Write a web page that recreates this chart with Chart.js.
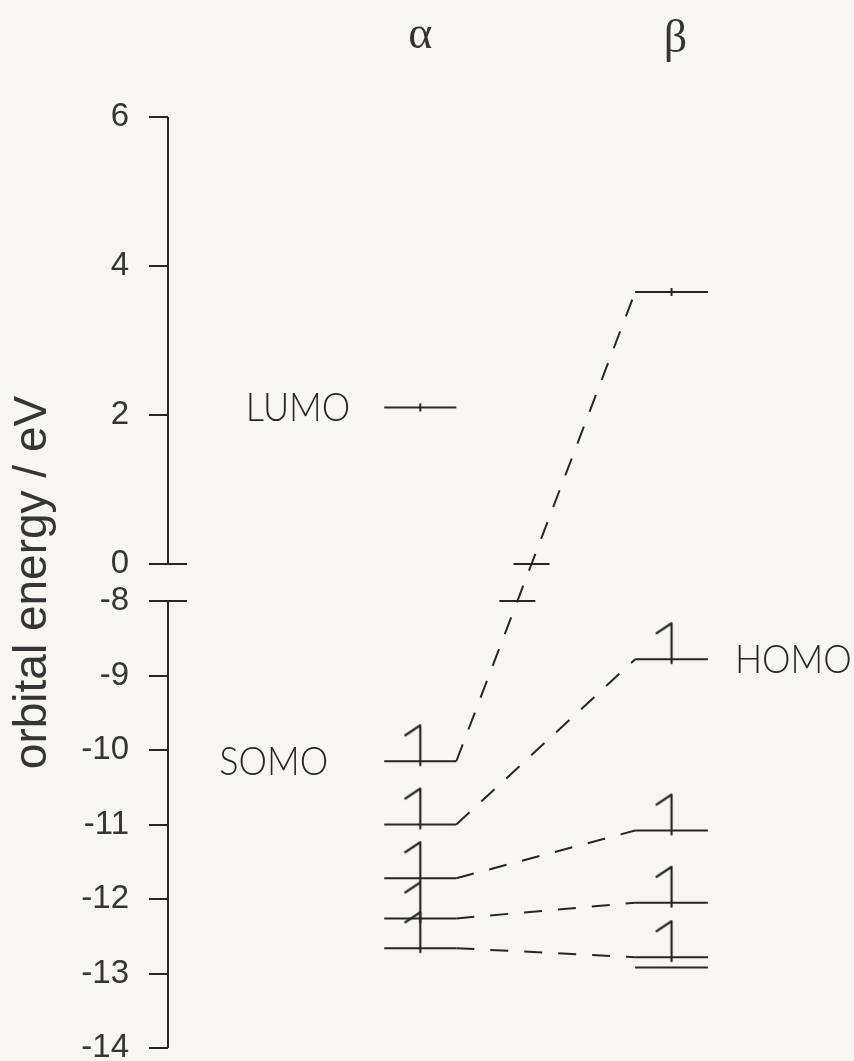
<!DOCTYPE html>
<html>
<head>
<meta charset="utf-8">
<script src="https://cdn.jsdelivr.net/npm/chart.js@4.4.1/dist/chart.umd.min.js"></script>
<style>
  html, body { margin: 0; padding: 0; background: #f8f6f1; }
  #wrap { width: 854px; height: 1061px; }
</style>
</head>
<body>
<div id="wrap"><canvas id="levels"></canvas></div>
<script>
// orbital energies (eV)
const alphaEnergy = [2.1, -10.15, -11.0, -11.72, -12.26, -12.66]
const alphaElectrons = [0, 1, 1, 1, 1, 1]
const betaEnergy = [3.65, -8.78, -11.08, -12.05, -12.78, -12.92]
const betaElectrons = [0, 1, 1, 1, 1, null]
// pairs [alpha level, beta level] joined by a dashed line
const correlation = [[1, 0], [2, 1], [3, 2], [4, 3], [5, 4]]
const orbitalNames = [
  { text: 'LUMO', spin: 'alpha', level: 0 },
  { text: 'SOMO', spin: 'alpha', level: 1 },
  { text: 'HOMO', spin: 'beta', level: 1 },
]
const spinLabels = ['α', 'β']
const tickValues = [6, 4, 2, 0, -8, -9, -10, -11, -12, -13, -14]
const axisTitle = 'orbital energy / eV'

// ---- broken axis: 0..6 on top, -8..-14 below, half a unit between ----
const BREAK_TOP = 0
const BREAK_BOTTOM = -8
const GAP = 0.5
const toAxis = e => (e >= BREAK_TOP ? e : e - BREAK_BOTTOM + BREAK_TOP - GAP)
const fromAxis = v => (v > BREAK_TOP - GAP / 2 ? v : v + BREAK_BOTTOM - BREAK_TOP + GAP)

// ---- layout / style ----
const INK = '#262626'
const TEXT = '#353535'
const COL = { alpha: [31.8, 42.4], beta: [68.7, 79.4] } // x extent of level lines (0..100)
const NAME_GAP = { LUMO: 34, SOMO: 56, HOMO: 27 }
const mid = ([a, b]) => (a + b) / 2

// half-arrow (harpoon) used for an electron
const harpoon = document.createElement('canvas')
harpoon.width = 40
harpoon.height = 90
const hc = harpoon.getContext('2d')
hc.strokeStyle = INK
hc.lineWidth = 2.2
hc.lineCap = 'round'
hc.lineJoin = 'round'
hc.beginPath()
hc.moveTo(20, 49)
hc.lineTo(20, 9)
hc.lineTo(5, 19)
hc.stroke()

const levelPoints = (energies, [x0, x1]) =>
  energies.flatMap(e => [{ x: x0, y: toAxis(e) }, { x: x1, y: toAxis(e) }, { x: x1, y: null }])

const linkPoints = correlation.flatMap(([a, b]) => [
  { x: COL.alpha[1], y: toAxis(alphaEnergy[a]) },
  { x: COL.beta[0], y: toAxis(betaEnergy[b]) },
  { x: COL.beta[0], y: null },
])

const markerPoints = [
  ...alphaEnergy.map((e, i) => ({ x: mid(COL.alpha), y: toAxis(e), n: alphaElectrons[i] })),
  ...betaEnergy.map((e, i) => ({ x: mid(COL.beta), y: toAxis(e), n: betaElectrons[i] })),
]

// ========================= //

const decor = {
  id: 'decor',
  afterDatasetsDraw(chart) {
    const { ctx, chartArea, scales: { x, y } } = chart
    const left = chartArea.left
    const py = e => y.getPixelForValue(toAxis(e))

    ctx.save()
    ctx.strokeStyle = INK
    ctx.lineWidth = 2
    ctx.beginPath()
    // axis line in two pieces
    ctx.moveTo(left, py(tickValues[0]))
    ctx.lineTo(left, py(BREAK_TOP))
    ctx.moveTo(left, py(BREAK_BOTTOM))
    ctx.lineTo(left, py(tickValues[tickValues.length - 1]))
    // break ticks cross the axis
    for (const e of [BREAK_TOP, BREAK_BOTTOM]) {
      ctx.moveTo(left, py(e))
      ctx.lineTo(left + 19, py(e))
    }
    // break marks on a dashed line that crosses the gap
    correlation.forEach(([a, b]) => {
      const ea = alphaEnergy[a]
      const eb = betaEnergy[b]
      if ((ea >= BREAK_TOP) === (eb >= BREAK_TOP)) return
      const x0 = x.getPixelForValue(COL.alpha[1])
      const x1 = x.getPixelForValue(COL.beta[0])
      const y0 = py(ea)
      const y1 = py(eb)
      for (const e of [BREAK_TOP, BREAK_BOTTOM]) {
        const yy = py(e)
        const xx = x0 + ((yy - y0) / (y1 - y0)) * (x1 - x0)
        ctx.moveTo(xx - 18, yy)
        ctx.lineTo(xx + 18, yy)
      }
    })
    ctx.stroke()

    // α / β headers
    ctx.fillStyle = TEXT
    ctx.font = '46px "Liberation Serif", serif'
    ctx.textAlign = 'center'
    ctx.textBaseline = 'middle'
    ctx.fillText(spinLabels[0], x.getPixelForValue(mid(COL.alpha)), 36)
    ctx.fillText(spinLabels[1], x.getPixelForValue(mid(COL.beta)) + 4, 40)

    // hand-written orbital names
    ctx.fillStyle = INK
    ctx.font = '300 40px Lato, "Liberation Sans", sans-serif'
    ctx.textBaseline = 'alphabetic'
    orbitalNames.forEach(({ text, spin, level }) => {
      const isAlpha = spin === 'alpha'
      const e = isAlpha ? alphaEnergy[level] : betaEnergy[level]
      const tx = isAlpha
        ? x.getPixelForValue(COL.alpha[0]) - NAME_GAP[text]
        : x.getPixelForValue(COL.beta[1]) + NAME_GAP[text]
      ctx.save()
      ctx.translate(tx, py(e) + 14)
      ctx.scale(0.9, 1)
      ctx.textAlign = isAlpha ? 'right' : 'left'
      ctx.fillText(text, 0, 0)
      ctx.restore()
    })
    ctx.restore()
  },
}

new Chart(document.getElementById('levels'), {
  type: 'line',
  data: {
    datasets: [
      { data: levelPoints(alphaEnergy, COL.alpha), borderColor: INK, borderWidth: 2, pointRadius: 0, spanGaps: false },
      { data: levelPoints(betaEnergy, COL.beta), borderColor: INK, borderWidth: 2, pointRadius: 0, spanGaps: false },
      { data: linkPoints, borderColor: INK, borderWidth: 2, borderDash: [18, 16], pointRadius: 0, spanGaps: false },
      {
        data: markerPoints,
        showLine: false,
        pointStyle: c => (c.raw && c.raw.n === 1 ? harpoon : 'line'),
        pointRotation: c => (c.raw && c.raw.n === 1 ? 0 : 90),
        pointRadius: c => (c.raw && c.raw.n == null ? 0 : 4),
        pointBorderColor: INK,
        pointBorderWidth: 2,
      },
    ],
  },
  options: {
    responsive: true,
    maintainAspectRatio: false,
    animation: false,
    events: [],
    layout: { padding: { top: 117, bottom: 13, left: 0, right: 6 } },
    plugins: { legend: { display: false }, tooltip: { enabled: false } },
    scales: {
      x: { type: 'linear', min: 0, max: 100, display: false },
      y: {
        type: 'linear',
        min: toAxis(tickValues[tickValues.length - 1]),
        max: tickValues[0],
        afterBuildTicks: s => {
          s.ticks = tickValues.map(v => ({ value: toAxis(v) }))
        },
        afterFit: s => {
          s.width = 168
          s.paddingTop = 0
          s.paddingBottom = 0
        },
        border: { display: false },
        grid: { drawOnChartArea: false, tickLength: 19, color: INK, lineWidth: 2 },
        ticks: {
          padding: 20,
          color: TEXT,
          font: { family: '"Liberation Sans", Arial, sans-serif', size: 33 },
          callback: v => String(Math.round(fromAxis(v))),
        },
        title: {
          display: true,
          text: axisTitle,
          color: TEXT,
          font: { family: '"Liberation Sans", Arial, sans-serif', size: 46 },
          padding: { top: 6, bottom: 0 },
        },
      },
    },
  },
  plugins: [decor],
})
</script>
</body>
</html>
